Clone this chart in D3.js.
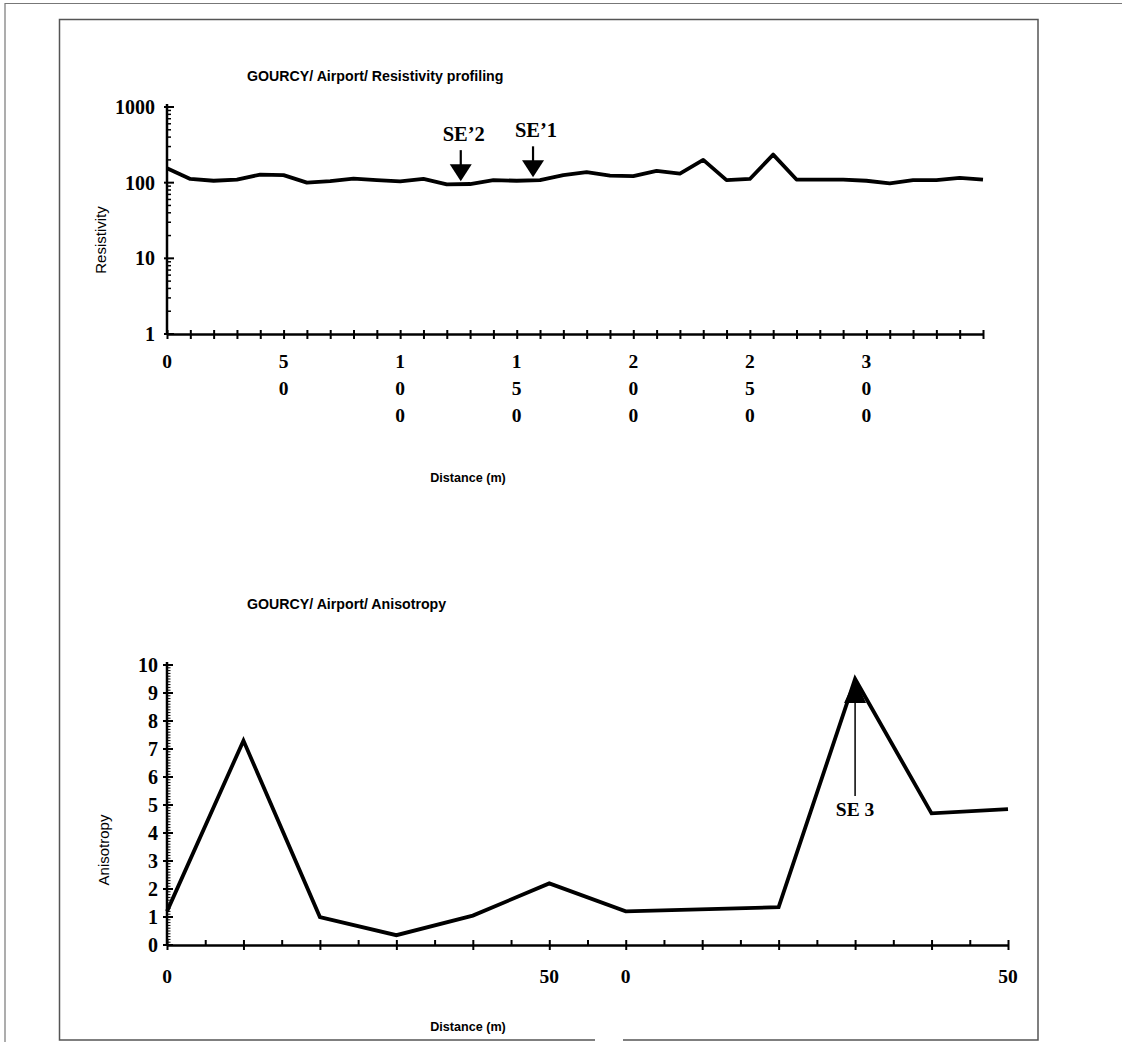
<!DOCTYPE html>
<html lang="en">
<head>
<meta charset="UTF-8">
<title>GOURCY / Airport</title>
<script src="https://d3js.org/d3.v7.min.js"></script>
<style>
    body { margin: 0; background: #fff; }
    svg { display: block; }
    .serif { font-family: "Liberation Serif", "Times New Roman", serif; font-weight: bold; }
    .sans { font-family: "Liberation Sans", Arial, sans-serif; }
</style>
</head>
<body>
<svg id="chart" width="1122" height="1042"></svg>
<script>
    // resistivity profile (distance in m, resistivity on log axis)
    const resDistance = [0, 10, 20, 30, 40, 50, 60, 70, 80, 90, 100, 110, 120, 130, 140, 150, 160, 170,
        180, 190, 200, 210, 220, 230, 240, 250, 260, 270, 280, 290, 300, 310, 320, 330, 340, 350];
    const resistivity = [155, 112, 106, 110, 128, 126, 100, 105, 113, 108, 104, 112, 95, 96, 108, 106, 108, 126,
        138, 124, 122, 143, 132, 200, 108, 112, 235, 110, 110, 110, 106, 98, 108, 108, 116, 110];
    const resYTicks = [1, 10, 100, 1000];
    const resXLabelAt = [0, 50, 100, 150, 200, 250, 300];
    const resXLabels = ["0", "50", "100", "150", "200", "250", "300"];
    const resMarkerNames = ["SE’2", "SE’1"];
    const resMarkerAt = [126, 157];

    // anisotropy profile (station index along the axis)
    const anisoStation = [0, 2, 4, 6, 8, 10, 12, 16, 18, 20, 22];
    const anisotropy = [1.2, 7.3, 1.0, 0.35, 1.05, 2.2, 1.2, 1.35, 9.5, 4.7, 4.85];
    const anisoYTicks = [0, 1, 2, 3, 4, 5, 6, 7, 8, 9, 10];
    const anisoXLabelAt = [0, 10, 12, 22];
    const anisoXLabels = ["0", "50", "0", "50"];
    const anisoMarkerName = "SE 3";
    const anisoMarkerAt = 18;

    const svg = d3.select("#chart");

    // page frames
    svg.append("path").attr("d", "M5,1042V3.5H1122").attr("fill", "none").attr("stroke", "#777").attr("stroke-width", 1.2);
    svg.append("path").attr("d", "M595,1040H59.5V19.5H1038V1040H623").attr("fill", "none").attr("stroke", "#555").attr("stroke-width", 1.5);

    // ---------- top chart ----------
    const x1 = d3.scaleLinear().domain([0, 350]).range([167, 983]);
    const y1 = d3.scaleLog().domain([1, 1000]).range([334, 107]);

    const resG = svg.append("g");

    resG.append("text").attr("class", "sans")
        .attr("x", 247).attr("y", 81)
        .attr("font-size", 14.2).attr("font-weight", "bold")
        .text("GOURCY/ Airport/ Resistivity profiling");

    // x axis
    const xAxis1 = resG.append("g")
        .attr("transform", `translate(0,${y1(1)})`)
        .call(d3.axisBottom(x1).tickValues(d3.range(0, 351, 10)).tickFormat("").tickSizeOuter(0));
    xAxis1.select(".domain").attr("stroke-width", 2.5);
    xAxis1.selectAll(".tick line").attr("y1", -4).attr("y2", 5).attr("stroke-width", 2);

    resXLabelAt.forEach((v, i) => {
        const t = resG.append("text").attr("class", "serif")
            .attr("font-size", 19.5).attr("text-anchor", "middle");
        resXLabels[i].split("").forEach((ch, j) => {
            t.append("tspan").attr("x", x1(v)).attr("y", 368 + j * 27).text(ch);
        });
    });

    resG.append("text").attr("class", "sans")
        .attr("x", 468).attr("y", 482)
        .attr("text-anchor", "middle").attr("font-size", 12.6).attr("font-weight", "bold")
        .text("Distance (m)");

    // y axis (log)
    const yAxis1 = resG.append("g").attr("transform", `translate(${x1(0)},0)`);
    yAxis1.append("line").attr("y1", y1(1) + 1).attr("y2", y1(1000) - 3).attr("stroke", "#000").attr("stroke-width", 2.5);
    const minor1 = [];
    [1, 10, 100].forEach(d => { for (let k = 2; k <= 9; k++) minor1.push(d * k); });
    yAxis1.selectAll("line.minor").data(minor1).join("line").attr("class", "minor")
        .attr("x1", 0).attr("x2", 4).attr("y1", d => y1(d)).attr("y2", d => y1(d))
        .attr("stroke", "#000").attr("stroke-width", 1.5);
    yAxis1.selectAll("line.major").data(resYTicks).join("line").attr("class", "major")
        .attr("x1", -3).attr("x2", 7).attr("y1", d => y1(d)).attr("y2", d => y1(d))
        .attr("stroke", "#000").attr("stroke-width", 2);
    yAxis1.selectAll("text").data(resYTicks).join("text").attr("class", "serif")
        .attr("x", -12).attr("y", d => y1(d)).attr("dy", "0.35em")
        .attr("text-anchor", "end").attr("font-size", 20)
        .text(d => d);

    resG.append("text").attr("class", "sans")
        .attr("transform", "translate(106,240) rotate(-90)")
        .attr("text-anchor", "middle").attr("font-size", 15)
        .text("Resistivity");

    // profile line
    resG.append("path")
        .datum(resDistance.map((d, i) => [d, resistivity[i]]))
        .attr("fill", "none").attr("stroke", "#000").attr("stroke-width", 3.8)
        .attr("stroke-linejoin", "round")
        .attr("d", d3.line().x(d => x1(d[0])).y(d => y1(d[1])));

    // sounding markers
    const interp = d => {
        const i = d3.bisectRight(resDistance, d) - 1;
        const t = (d - resDistance[i]) / (resDistance[i + 1] - resDistance[i]);
        return Math.exp(Math.log(resistivity[i]) * (1 - t) + Math.log(resistivity[i + 1]) * t);
    };
    resMarkerAt.forEach((d, i) => {
        const cx = x1(d), tip = y1(interp(d)) - 3;
        resG.append("line").attr("x1", cx).attr("x2", cx).attr("y1", tip - 31).attr("y2", tip - 15)
            .attr("stroke", "#000").attr("stroke-width", 2.2);
        resG.append("path").attr("d", `M${cx - 11},${tip - 17}L${cx + 11},${tip - 17}L${cx},${tip}Z`).attr("fill", "#000");
        resG.append("text").attr("class", "serif")
            .attr("x", cx + 3).attr("y", tip - 40)
            .attr("text-anchor", "middle").attr("font-size", 20.5)
            .text(resMarkerNames[i]);
    });

    // ---------- bottom chart ----------
    const x2 = d3.scaleLinear().domain([0, 22]).range([167, 1008]);
    const y2 = d3.scaleLinear().domain([0, 10]).range([945, 665]);

    const anisoG = svg.append("g");

    anisoG.append("text").attr("class", "sans")
        .attr("x", 247).attr("y", 609)
        .attr("font-size", 14.2).attr("font-weight", "bold")
        .text("GOURCY/ Airport/ Anisotropy");

    const xAxis2 = anisoG.append("g")
        .attr("transform", `translate(0,${y2(0)})`)
        .call(d3.axisBottom(x2).tickValues(d3.range(0, 23, 1)).tickFormat("").tickSizeOuter(0));
    xAxis2.select(".domain").attr("stroke-width", 2.5);
    xAxis2.selectAll(".tick line")
        .attr("y1", -5)
        .attr("y2", d => d % 2 === 0 ? 5 : 0)
        .attr("stroke-width", 2);

    anisoG.selectAll("text.xl").data(anisoXLabelAt).join("text").attr("class", "serif xl")
        .attr("x", d => x2(d)).attr("y", 983)
        .attr("text-anchor", "middle").attr("font-size", 19.5)
        .text((d, i) => anisoXLabels[i]);

    anisoG.append("text").attr("class", "sans")
        .attr("x", 468).attr("y", 1031)
        .attr("text-anchor", "middle").attr("font-size", 12.6).attr("font-weight", "bold")
        .text("Distance (m)");

    const yAxis2 = anisoG.append("g").attr("transform", `translate(${x2(0)},0)`);
    yAxis2.append("line").attr("y1", y2(0) + 1).attr("y2", y2(10) - 3).attr("stroke", "#000").attr("stroke-width", 2.5);
    yAxis2.selectAll("line.minor").data(d3.range(1, 100).filter(k => k % 10 !== 0).map(k => k / 10))
        .join("line").attr("class", "minor")
        .attr("x1", 0).attr("x2", 3.5).attr("y1", d => y2(d)).attr("y2", d => y2(d))
        .attr("stroke", "#000").attr("stroke-width", 1);
    yAxis2.selectAll("line.major").data(anisoYTicks).join("line").attr("class", "major")
        .attr("x1", -4).attr("x2", 6).attr("y1", d => y2(d)).attr("y2", d => y2(d))
        .attr("stroke", "#000").attr("stroke-width", 2);
    yAxis2.selectAll("text").data(anisoYTicks).join("text").attr("class", "serif")
        .attr("x", -9).attr("y", d => y2(d)).attr("dy", "0.35em")
        .attr("text-anchor", "end").attr("font-size", 20)
        .text(d => d);

    anisoG.append("text").attr("class", "sans")
        .attr("transform", "translate(109,850) rotate(-90)")
        .attr("text-anchor", "middle").attr("font-size", 15)
        .text("Anisotropy");

    anisoG.append("path")
        .datum(anisoStation.map((d, i) => [d, anisotropy[i]]))
        .attr("fill", "none").attr("stroke", "#000").attr("stroke-width", 3.8)
        .attr("stroke-linejoin", "miter")
        .attr("d", d3.line().x(d => x2(d[0])).y(d => y2(d[1])));

    // SE 3 marker (arrow pointing up to the peak)
    const mx = x2(anisoMarkerAt);
    const mtip = y2(anisotropy[anisoStation.indexOf(anisoMarkerAt)]);
    anisoG.append("path").attr("d", `M${mx},${mtip}L${mx + 11},${mtip + 24}L${mx - 11},${mtip + 24}Z`).attr("fill", "#000");
    anisoG.append("line").attr("x1", mx).attr("x2", mx).attr("y1", mtip + 20).attr("y2", mtip + 117)
        .attr("stroke", "#000").attr("stroke-width", 1.5);
    anisoG.append("text").attr("class", "serif")
        .attr("x", mx).attr("y", mtip + 137)
        .attr("text-anchor", "middle").attr("font-size", 19.5)
        .text(anisoMarkerName);
</script>
</body>
</html>
